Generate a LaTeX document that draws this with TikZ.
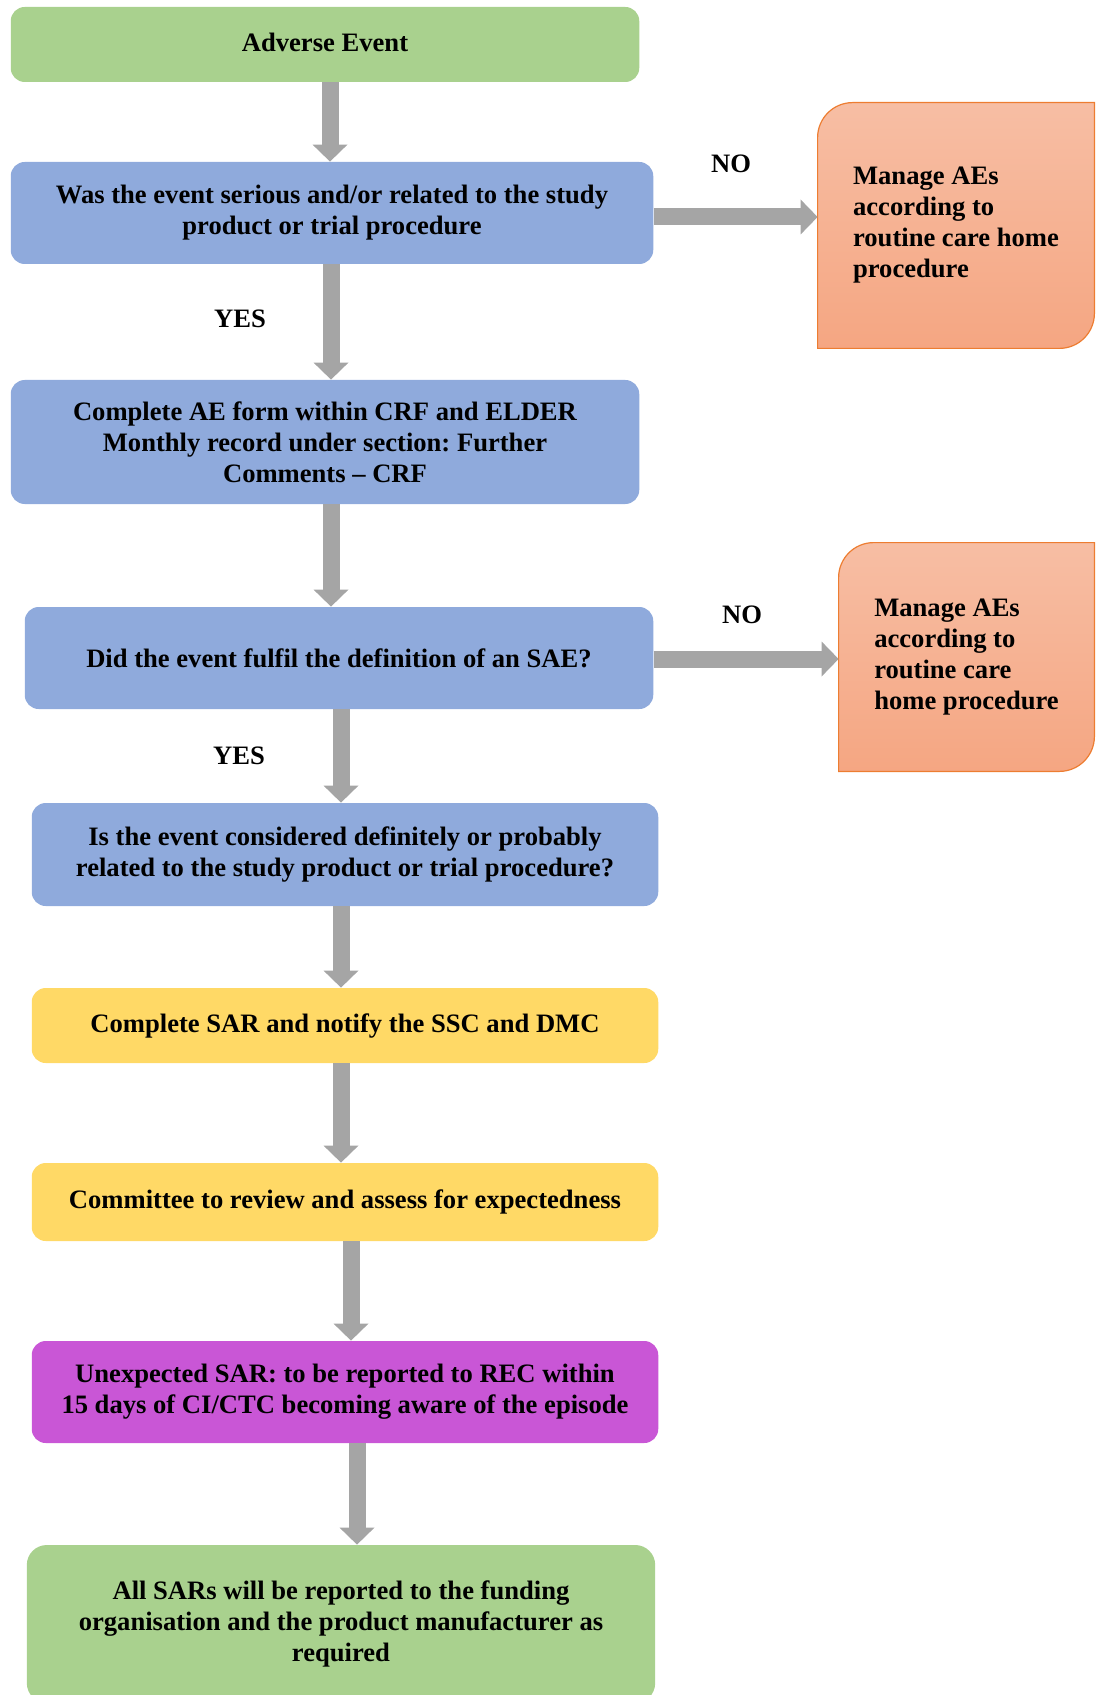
\documentclass[tikz,border=0pt]{standalone}
\usepackage{fontspec}
\setmainfont{Liberation Serif}
\usetikzlibrary{arrows.meta}
\pgfdeclarelayer{background}
\pgfsetlayers{background,main}
\definecolor{bluefill}{HTML}{8FAADC}
\definecolor{greenfill}{HTML}{A9D18E}
\definecolor{yellowfill}{HTML}{FFD966}
\definecolor{magentafill}{HTML}{C956D6}
\definecolor{orTop}{HTML}{F7BEA4}
\definecolor{orBot}{HTML}{F5A682}
\definecolor{orBorder}{HTML}{ED7D31}
\definecolor{arrgray}{HTML}{A5A5A5}
\frenchspacing
\begin{document}
\begin{tikzpicture}[x=0.5pt,y=-0.5pt,
  txt/.style={font=\fontsize{13.3}{15.5}\selectfont\bfseries},
  box/.style={txt, rectangle, rounded corners=7pt, inner sep=0pt, align=center},
  bluebox/.style={box, fill=bluefill},
  greenbox/.style={box, fill=greenfill},
  yellowbox/.style={box, fill=yellowfill},
  magbox/.style={box, fill=magentafill},
  orbox/.style={txt, rectangle, inner sep=0pt, align=left},
  orshape/.style={top color=orTop, bottom color=orBot, draw=orBorder, line width=0.6pt},
  bigarr/.style={draw=arrgray, line width=8.5pt, -{Triangle[width=17.5pt,length=8.5pt,line width=0pt]}},
  lbl/.style={txt, inner sep=0pt}
]
\useasboundingbox (0,0) rectangle (1096,1695);
\clip (0,0) rectangle (1096,1695);

\node[greenbox, minimum width=314.25pt, minimum height=37.5pt] (ae) at (325,44.5) {\raisebox{2pt}{Adverse Event}};
\node[bluebox, minimum width=321.25pt, minimum height=51pt] (q1) at (332,213) {Was the event serious and/or related to the study\\product or trial procedure};
\node[bluebox, minimum width=314.25pt, minimum height=62pt] (c1) at (325,442) {Complete AE form within CRF and ELDER\\Monthly record under section: Further\\Comments -- CRF};
\node[bluebox, minimum width=314.25pt, minimum height=51pt] (q2) at (339,658) {Did the event fulfil the definition of an SAE?};
\node[bluebox, minimum width=313.25pt, minimum height=51.5pt] (q3) at (345,854.5) {Is the event considered definitely or probably\\related to the study product or trial procedure?};
\node[yellowbox, minimum width=313.25pt, minimum height=37.5pt] (s1) at (345,1025.5) {Complete SAR and notify the SSC and DMC};
\node[yellowbox, minimum width=313.25pt, minimum height=39pt] (s2) at (345,1202) {Committee to review and assess for expectedness};
\node[magbox, minimum width=313.25pt, minimum height=51pt] (u) at (345,1392) {Unexpected SAR: to be reported to REC within\\15 days of CI/CTC becoming aware of the episode};
\node[greenbox, rounded corners=10pt, minimum width=314.2pt, minimum height=79pt] (all) at (341,1624) {All SARs will be reported to the funding\\organisation and the product manufacturer as\\required};

\node[orbox, minimum width=138pt, minimum height=122.5pt] (m1) at (956,225.5) {Manage AEs\\according to\\routine care home\\procedure};
\node[orbox, minimum width=127.5pt, minimum height=114pt] (m2) at (966.5,657) {Manage AEs\\according to\\routine care\\home procedure};

\begin{pgfonlayer}{background}
\shadedraw[orshape] ([xshift=17.5pt]m1.north west) arc[start angle=90,end angle=180,radius=17.5pt] -- (m1.south west) -- ([xshift=-17.5pt]m1.south east) arc[start angle=270,end angle=360,radius=17.5pt] -- (m1.north east) -- cycle;
\shadedraw[orshape] ([xshift=17.5pt]m2.north west) arc[start angle=90,end angle=180,radius=17.5pt] -- (m2.south west) -- ([xshift=-17.5pt]m2.south east) arc[start angle=270,end angle=360,radius=17.5pt] -- (m2.north east) -- cycle;
\end{pgfonlayer}

\draw[bigarr] ([xshift=2.5pt]ae.south) -- ([xshift=-1pt]q1.north);
\draw[bigarr] ([xshift=-0.5pt]q1.south) -- ([xshift=3pt]c1.north);
\draw[bigarr] ([xshift=3pt]c1.south) -- ([xshift=-4pt]q2.north);
\draw[bigarr] ([xshift=1pt]q2.south) -- ([xshift=-2pt]q3.north);
\draw[bigarr] ([xshift=-2pt]q3.south) -- ([xshift=-2pt]s1.north);
\draw[bigarr] ([xshift=-2pt]s1.south) -- ([xshift=-2pt]s2.north);
\draw[bigarr] ([xshift=3pt]s2.south) -- ([xshift=3pt]u.north);
\draw[bigarr] ([xshift=6pt]u.south) -- ([xshift=8pt]all.north);
\draw[bigarr] ([yshift=-2pt]q1.east) -- ([yshift=4.25pt]m1.west);
\draw[bigarr] ([yshift=-0.5pt]q2.east) -- ([yshift=-1pt]m2.west);

\node[lbl] (no1) at (731,164) {NO};
\node[lbl] (yes1) at (240,319) {YES};
\node[lbl] (no2) at (742,615) {NO};
\node[lbl] (yes2) at (239,756) {YES};
\end{tikzpicture}
\end{document}
